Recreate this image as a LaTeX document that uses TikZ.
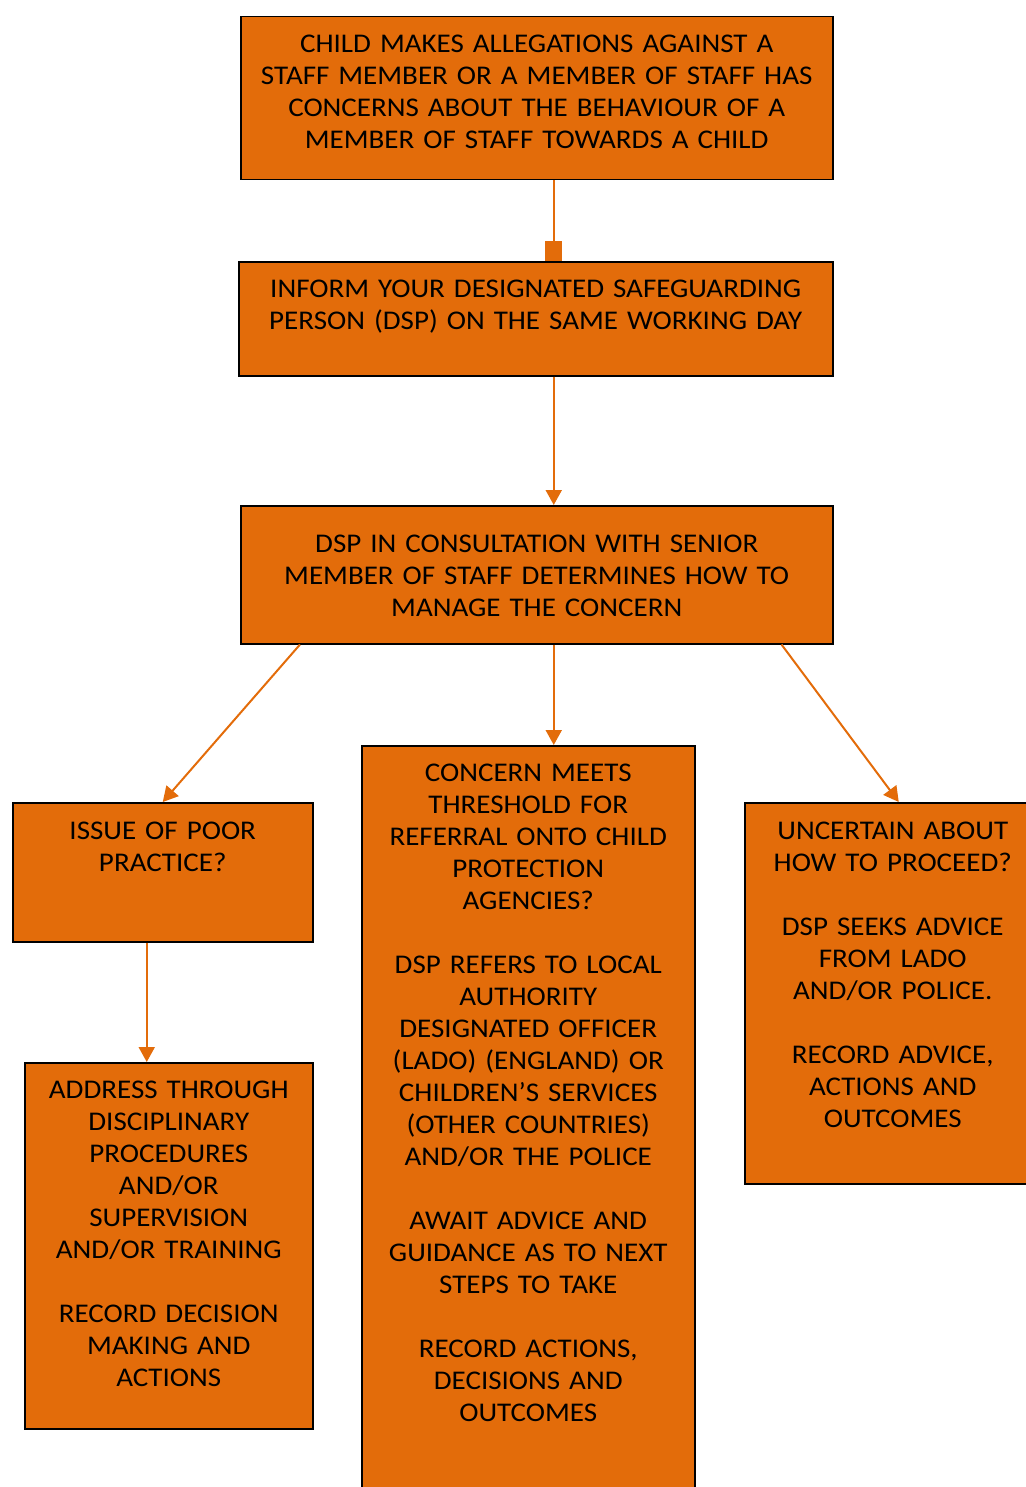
\documentclass[tikz,border=0pt]{standalone}
\usepackage{fontspec}
\setmainfont{Carlito}[FakeStretch=1.075]
\usepackage{tikz}
\usetikzlibrary{positioning, arrows.meta}
\definecolor{flowor}{HTML}{E36C0A}

\begin{document}
\begin{tikzpicture}[x=0.5pt, y=-0.5pt,
  box/.style={draw=black, line width=0.75pt, fill=flowor, anchor=north west,
    inner sep=0pt, align=center, font=\fontsize{13.5}{16}\selectfont},
  arr/.style={draw=flowor, line width=1pt, -{Triangle[width=8pt,length=7.5pt]}}]
\useasboundingbox (0,0) rectangle (1026,1487);
% boxes
\node[box, text width=296pt, text height=18pt, text depth=63.5pt] (allege) at (240,16)
  {CHILD MAKES ALLEGATIONS AGAINST A\\STAFF MEMBER OR A MEMBER OF STAFF HAS\\
   CONCERNS ABOUT THE BEHAVIOUR OF A\\MEMBER OF STAFF TOWARDS A CHILD};
\node[box, text width=297pt, text height=18pt, text depth=39pt] (inform) at (238,261)
  {INFORM YOUR DESIGNATED SAFEGUARDING\\PERSON (DSP) ON THE SAME WORKING DAY};
\node[box, text width=296pt, text height=23.5pt, text depth=45.5pt] (consult) at (240,505)
  {DSP IN CONSULTATION WITH SENIOR\\MEMBER OF STAFF DETERMINES HOW TO\\MANAGE THE CONCERN};
\node[box, text width=150pt, text height=18.5pt, text depth=51pt] (poor) at (12,802)
  {ISSUE OF POOR\\PRACTICE?};
\node[box, text width=144pt, text height=18pt, text depth=165pt] (address) at (24,1062)
  {ADDRESS THROUGH\\DISCIPLINARY\\PROCEDURES\\AND/OR\\SUPERVISION\\AND/OR TRAINING\\[16pt]
   RECORD DECISION\\MAKING AND\\ACTIONS};
\node[box, text width=166.5pt, text height=18pt, text depth=357pt] (refer) at (361,745)
  {CONCERN MEETS\\THRESHOLD FOR\\REFERRAL ONTO CHILD\\PROTECTION\\AGENCIES?\\[16pt]
   DSP REFERS TO LOCAL\\AUTHORITY\\DESIGNATED OFFICER\\(LADO) (ENGLAND) OR\\
   CHILDREN’S SERVICES\\(OTHER COUNTRIES)\\AND/OR THE POLICE\\[16pt]
   AWAIT ADVICE AND\\GUIDANCE AS TO NEXT\\STEPS TO TAKE\\[16pt]
   RECORD ACTIONS,\\DECISIONS AND\\OUTCOMES};
\node[box, text width=148pt, text height=18.5pt, text depth=172pt] (uncertain) at (744,802)
  {UNCERTAIN ABOUT\\HOW TO PROCEED?\\[16pt]DSP SEEKS ADVICE\\FROM LADO\\AND/OR POLICE.\\[16pt]
   RECORD ADVICE,\\ACTIONS AND\\OUTCOMES};
% arrows
\draw[arr, -{Square[width=8.5pt,length=10pt]}] ([xshift=8.5pt]allege.south) -- ([xshift=9pt]inform.north);
\draw[arr] ([xshift=9pt]inform.south) -- ([xshift=8.5pt]consult.north);
\draw[arr] ([xshift=30pt]consult.south west) -- (poor.north);
\draw[arr] ([xshift=8.5pt]consult.south) -- ([xshift=8.5pt]consult.south |- refer.north);
\draw[arr] ([xshift=-26pt]consult.south east) -- ([xshift=3pt]uncertain.north);
\draw[arr] ([xshift=-8pt]poor.south) -- ([xshift=-8pt]poor.south |- address.north);
\end{tikzpicture}
\end{document}
